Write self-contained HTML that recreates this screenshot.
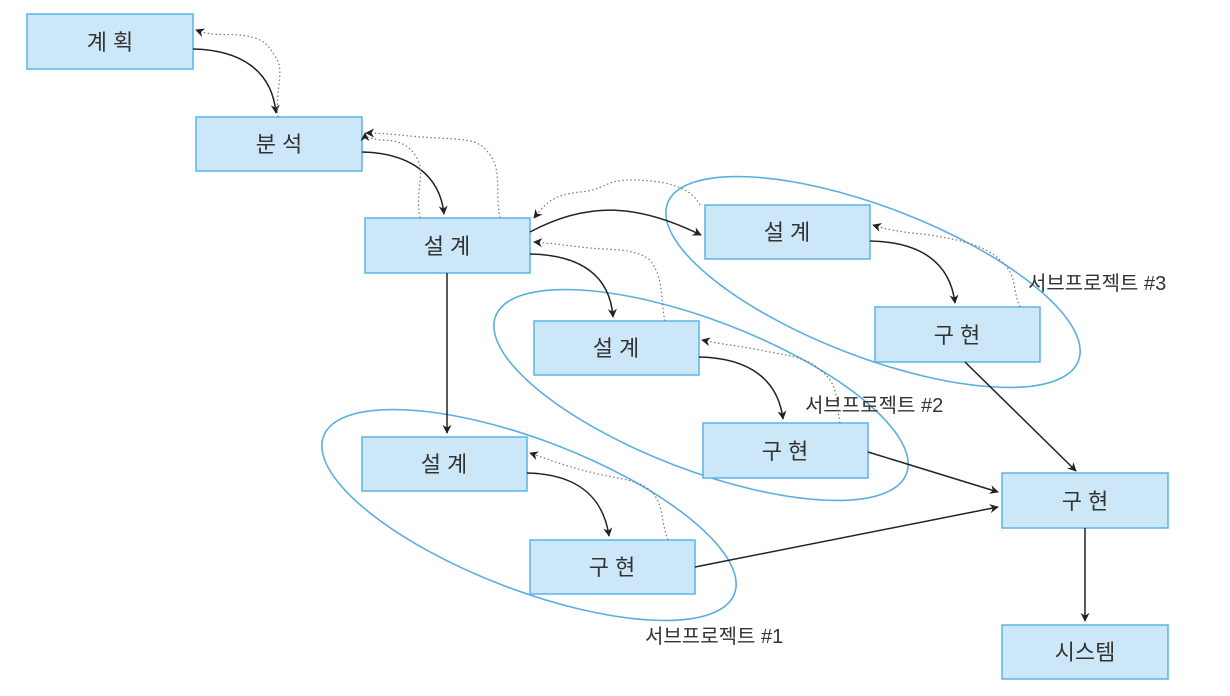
<!DOCTYPE html>
<html><head><meta charset="utf-8"><style>
html,body{margin:0;padding:0;background:#fff;}
svg{display:block;}
text{font-family:"Liberation Sans","Noto Sans CJK KR",sans-serif;}
</style></head><body>
<svg width="1230" height="696" viewBox="0 0 1230 696" xmlns="http://www.w3.org/2000/svg">
<defs>
<marker id="a" viewBox="0 0 10 10" refX="9" refY="5" markerWidth="9" markerHeight="9" orient="auto-start-reverse" markerUnits="userSpaceOnUse">
<path d="M0,0 L10,5 L0,10 L3,5 z" fill="#222"/></marker>
</defs>
<g fill="none" stroke="#5aafe0" stroke-width="1.6">
<ellipse cx="873" cy="282" rx="220" ry="75" transform="rotate(21 873 282)"/>
<ellipse cx="701" cy="395" rx="220" ry="75" transform="rotate(21 701 395)"/>
<ellipse cx="529" cy="515" rx="220" ry="75" transform="rotate(21 529 515)"/>
</g>
<g fill="#cce8f8" stroke="#5ab4e8" stroke-width="1.5">
<rect x="27" y="14" width="166" height="55"/>
<rect x="196" y="117" width="166" height="54"/>
<rect x="365" y="218" width="165" height="55"/>
<rect x="705" y="205" width="165" height="54"/>
<rect x="875" y="307" width="165" height="55"/>
<rect x="534" y="321" width="165" height="54"/>
<rect x="703" y="423" width="165" height="55"/>
<rect x="362" y="437" width="165" height="54"/>
<rect x="530" y="540" width="165" height="54"/>
<rect x="1002" y="473" width="166" height="55"/>
<rect x="1002" y="625" width="166" height="54"/>
</g>
<g font-size="22" fill="#333" text-anchor="middle">
<text x="110" y="50">계 획</text>
<text x="279" y="152">분 석</text>
<text x="447" y="254">설 계</text>
<text x="787" y="240">설 계</text>
<text x="957" y="343">구 현</text>
<text x="616" y="356">설 계</text>
<text x="785" y="459">구 현</text>
<text x="444" y="472">설 계</text>
<text x="612" y="575">구 현</text>
<text x="1085" y="509">구 현</text>
<text x="1085" y="660">시스템</text>
</g>
<g font-size="20" fill="#333">
<text x="1028" y="290">서브프로젝트 #3</text>
<text x="805" y="412">서브프로젝트 #2</text>
<text x="645" y="643">서브프로젝트 #1</text>
</g>
<g fill="none" stroke="#222" stroke-width="1.5">
<path d="M193,49 C240,50 272,70 276,113" marker-end="url(#a)"/>
<path d="M362,152 C410,153 440,175 444,214" marker-end="url(#a)"/>
<path d="M530,232 C590,200 640,205 701,235" marker-end="url(#a)"/>
<path d="M530,254 C580,255 610,275 613,317" marker-end="url(#a)"/>
<path d="M870,241 C920,242 950,262 955,303" marker-end="url(#a)"/>
<path d="M699,357 C750,358 778,380 783,419" marker-end="url(#a)"/>
<path d="M527,473 C575,474 603,495 609,536" marker-end="url(#a)"/>
<path d="M447,273 L447,433" marker-end="url(#a)"/>
<path d="M965,362 L1076,471" marker-end="url(#a)"/>
<path d="M868,452 L998,492" marker-end="url(#a)"/>
<path d="M695,567 L998,507" marker-end="url(#a)"/>
<path d="M1085,528 L1085,621" marker-end="url(#a)"/>
</g>
<g fill="none" stroke="#777" stroke-width="1.2" stroke-dasharray="1.5,2.5">
<path d="M278,117 C275,90 285,70 276,58 C268,45 265,38 240,35 C222,34 212,36 196,30" marker-end="url(#a)"/>
<path d="M420,218 C415,190 425,175 418,160 C410,145 400,140 380,140 C370,138 365,138 365,133" marker-end="url(#a)"/>
<path d="M500,218 C495,195 502,170 490,155 C480,140 470,140 440,138 C410,137 390,133 366,133" marker-end="url(#a)"/>
<path d="M700,205 C690,185 660,180 630,180 C605,180 605,190 580,192 C555,195 548,200 534,218" marker-end="url(#a)"/>
<path d="M665,321 C660,300 665,280 650,260 C635,248 610,250 590,248 C570,246 560,244 534,242" marker-end="url(#a)"/>
<path d="M1020,307 C1012,290 1018,275 1000,260 C985,245 960,240 930,235 C905,232 895,232 873,225" marker-end="url(#a)"/>
<path d="M840,423 C835,400 840,385 820,370 C805,355 780,355 760,350 C735,345 725,345 702,340" marker-end="url(#a)"/>
<path d="M668,540 C660,520 665,505 650,490 C635,478 610,478 590,472 C565,466 550,460 530,453" marker-end="url(#a)"/>
</g>
</svg>
</body></html>
